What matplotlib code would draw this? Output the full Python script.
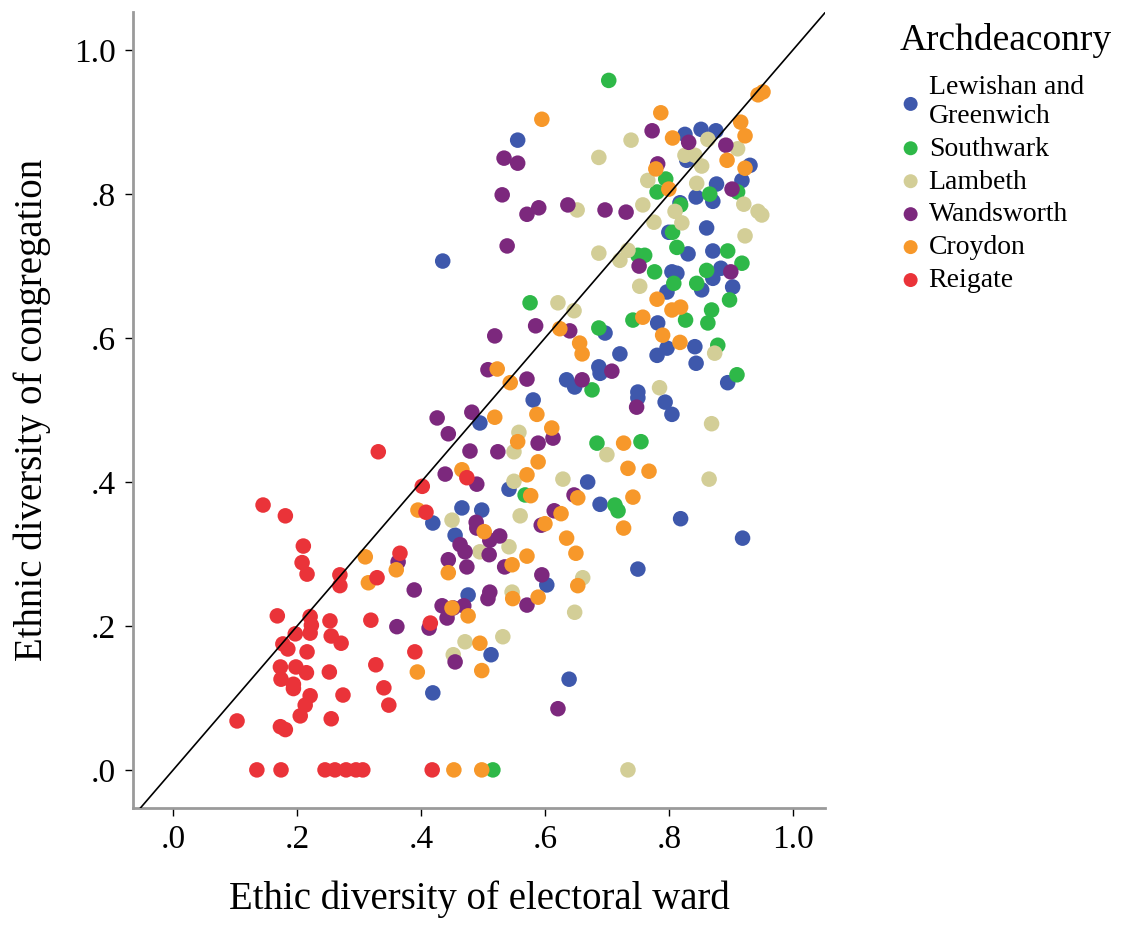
import matplotlib
matplotlib.use('Agg')
import matplotlib.pyplot as plt

plt.rcParams['font.family'] = ['Liberation Serif', 'DejaVu Serif']

# Archdeaconry groups: x = ethnic diversity of ward, y = of congregation
lewisham_x = [0.556, 0.435, 0.826, 0.852, 0.876, 0.829, 0.931, 0.918, 0.877, 0.871, 0.844, 0.818, 0.800, 0.861,
              0.831, 0.871, 0.805, 0.813, 0.797, 0.884, 0.871, 0.853, 0.903, 0.782, 0.797, 0.781, 0.842, 0.844,
              0.697, 0.721, 0.687, 0.689, 0.635, 0.648, 0.895, 0.750, 0.750, 0.794, 0.805, 0.581, 0.495, 0.542,
              0.669, 0.689, 0.419, 0.466, 0.498, 0.455, 0.603, 0.476, 0.819, 0.919, 0.750, 0.513, 0.419, 0.639]
lewisham_y = [0.875, 0.707, 0.883, 0.890, 0.888, 0.847, 0.840, 0.819, 0.814, 0.790, 0.796, 0.788, 0.747, 0.753,
              0.717, 0.721, 0.692, 0.690, 0.664, 0.697, 0.683, 0.667, 0.671, 0.621, 0.586, 0.576, 0.588, 0.565,
              0.607, 0.578, 0.560, 0.551, 0.542, 0.532, 0.538, 0.525, 0.517, 0.511, 0.494, 0.514, 0.482, 0.390,
              0.400, 0.369, 0.343, 0.364, 0.361, 0.326, 0.257, 0.243, 0.349, 0.322, 0.279, 0.160, 0.107, 0.126]

southwark_x = [0.703, 0.795, 0.781, 0.911, 0.866, 0.819, 0.806, 0.750, 0.761, 0.813, 0.895, 0.918, 0.777, 0.808,
               0.861, 0.845, 0.898, 0.869, 0.863, 0.827, 0.742, 0.576, 0.687, 0.676, 0.879, 0.910, 0.684, 0.755,
               0.713, 0.718, 0.568, 0.516]
southwark_y = [0.958, 0.821, 0.803, 0.803, 0.800, 0.785, 0.747, 0.715, 0.715, 0.726, 0.721, 0.704, 0.692, 0.676,
               0.694, 0.676, 0.653, 0.639, 0.621, 0.625, 0.625, 0.649, 0.614, 0.528, 0.590, 0.549, 0.454, 0.456,
               0.368, 0.360, 0.382, 0.0]

lambeth_x = [0.687, 0.739, 0.863, 0.911, 0.826, 0.842, 0.853, 0.766, 0.845, 0.758, 0.921, 0.944, 0.810, 0.652,
             0.776, 0.821, 0.923, 0.950, 0.687, 0.734, 0.721, 0.753, 0.621, 0.647, 0.874, 0.785, 0.869, 0.700,
             0.865, 0.558, 0.550, 0.550, 0.629, 0.450, 0.560, 0.542, 0.495, 0.661, 0.547, 0.648, 0.471, 0.532,
             0.452, 0.734]
lambeth_y = [0.851, 0.875, 0.876, 0.863, 0.854, 0.854, 0.839, 0.819, 0.815, 0.785, 0.786, 0.776, 0.776, 0.778,
             0.761, 0.760, 0.742, 0.771, 0.718, 0.722, 0.708, 0.672, 0.649, 0.638, 0.579, 0.531, 0.481, 0.438,
             0.404, 0.469, 0.442, 0.401, 0.404, 0.347, 0.353, 0.310, 0.303, 0.267, 0.247, 0.219, 0.178, 0.185,
             0.160, 0.0]

wandsworth_x = [0.534, 0.556, 0.531, 0.571, 0.590, 0.637, 0.539, 0.697, 0.731, 0.773, 0.832, 0.892, 0.782, 0.902,
                0.752, 0.900, 0.585, 0.519, 0.640, 0.508, 0.571, 0.660, 0.708, 0.748, 0.482, 0.426, 0.444, 0.613,
                0.589, 0.479, 0.524, 0.439, 0.490, 0.647, 0.489, 0.490, 0.615, 0.594, 0.527, 0.511, 0.463, 0.471,
                0.510, 0.363, 0.444, 0.474, 0.535, 0.595, 0.389, 0.511, 0.508, 0.434, 0.452, 0.469, 0.571, 0.361,
                0.413, 0.442, 0.455, 0.621]
wandsworth_y = [0.850, 0.843, 0.799, 0.772, 0.781, 0.785, 0.728, 0.778, 0.775, 0.888, 0.872, 0.868, 0.842, 0.807,
                0.700, 0.692, 0.617, 0.603, 0.610, 0.556, 0.543, 0.542, 0.554, 0.504, 0.497, 0.489, 0.467, 0.461,
                0.454, 0.443, 0.442, 0.411, 0.397, 0.382, 0.344, 0.336, 0.360, 0.340, 0.325, 0.319, 0.313, 0.303,
                0.299, 0.289, 0.292, 0.282, 0.282, 0.271, 0.250, 0.247, 0.238, 0.228, 0.225, 0.228, 0.229, 0.199,
                0.197, 0.211, 0.150, 0.085]

croydon_x = [0.595, 0.787, 0.944, 0.952, 0.916, 0.923, 0.806, 0.894, 0.923, 0.779, 0.800, 0.781, 0.805, 0.819,
             0.758, 0.790, 0.818, 0.624, 0.656, 0.660, 0.523, 0.544, 0.519, 0.587, 0.727, 0.734, 0.768, 0.742,
             0.727, 0.611, 0.556, 0.589, 0.466, 0.571, 0.577, 0.653, 0.395, 0.626, 0.600, 0.502, 0.635, 0.650,
             0.571, 0.310, 0.360, 0.444, 0.547, 0.315, 0.653, 0.548, 0.589, 0.450, 0.476, 0.495, 0.394, 0.498,
             0.453, 0.498]
croydon_y = [0.904, 0.913, 0.938, 0.942, 0.900, 0.881, 0.878, 0.847, 0.836, 0.835, 0.807, 0.654, 0.639, 0.643,
             0.629, 0.604, 0.594, 0.613, 0.593, 0.578, 0.557, 0.538, 0.490, 0.494, 0.454, 0.419, 0.415, 0.379,
             0.336, 0.475, 0.456, 0.428, 0.417, 0.410, 0.381, 0.378, 0.361, 0.356, 0.342, 0.331, 0.322, 0.301,
             0.297, 0.296, 0.278, 0.274, 0.285, 0.260, 0.256, 0.238, 0.240, 0.225, 0.214, 0.176, 0.136, 0.138,
             0.0, 0.0]

reigate_x = [0.145, 0.181, 0.210, 0.208, 0.216, 0.269, 0.269, 0.168, 0.221, 0.223, 0.221, 0.253, 0.197, 0.255,
             0.271, 0.177, 0.185, 0.216, 0.173, 0.198, 0.215, 0.252, 0.174, 0.194, 0.194, 0.274, 0.221, 0.213,
             0.205, 0.103, 0.255, 0.173, 0.181, 0.135, 0.174, 0.245, 0.261, 0.279, 0.295, 0.306, 0.418, 0.319,
             0.415, 0.390, 0.327, 0.340, 0.348, 0.331, 0.474, 0.402, 0.408, 0.366, 0.329]
reigate_y = [0.368, 0.353, 0.311, 0.288, 0.272, 0.271, 0.256, 0.214, 0.213, 0.201, 0.190, 0.207, 0.189, 0.186,
             0.176, 0.175, 0.168, 0.164, 0.143, 0.143, 0.135, 0.136, 0.126, 0.119, 0.113, 0.104, 0.103, 0.090,
             0.075, 0.068, 0.071, 0.060, 0.056, 0.0, 0.0, 0.0, 0.0, 0.0, 0.0, 0.0, 0.0, 0.208,
             0.204, 0.164, 0.146, 0.114, 0.090, 0.442, 0.406, 0.394, 0.358, 0.301, 0.267]

groups = [
    ('Lewishan and\nGreenwich', lewisham_x, lewisham_y, '#3E58AC'),
    ('Southwark', southwark_x, southwark_y, '#2EB848'),
    ('Lambeth', lambeth_x, lambeth_y, '#D3CE97'),
    ('Wandsworth', wandsworth_x, wandsworth_y, '#7C287D'),
    ('Croydon', croydon_x, croydon_y, '#F7982A'),
    ('Reigate', reigate_x, reigate_y, '#EA3339'),
]

ticks = [0.0, 0.2, 0.4, 0.6, 0.8, 1.0]
tick_labels = ['.0', '.2', '.4', '.6', '.8', '1.0']

fig = plt.figure(figsize=(11.23, 9.26), dpi=100)
ax = fig.add_axes([0.1184, 0.1274, 0.6162, 0.8596])

for name, xs, ys, col in groups:
    ax.scatter(xs, ys, s=125, color=col, edgecolors='none', label=name, zorder=2)

# reference line y = x
ax.axline((0, 0), (1, 1), color='black', lw=1.2, zorder=3)

ax.set_xlim(-0.065, 1.052)
ax.set_ylim(-0.053, 1.053)
ax.set_xticks(ticks)
ax.set_xticklabels(tick_labels)
ax.set_yticks(ticks)
ax.set_yticklabels(tick_labels)
ax.tick_params(labelsize=24, length=6, width=1, colors='black', pad=6)

for side in ['top', 'right']:
    ax.spines[side].set_visible(False)
for side in ['left', 'bottom']:
    ax.spines[side].set_color('#9a9a9a')
    ax.spines[side].set_linewidth(2)

ax.set_xlabel('Ethic diversity of electoral ward', fontsize=28, labelpad=18)
ax.set_ylabel('Ethnic diversity of congregation', fontsize=28, labelpad=17)

leg = fig.legend(loc='upper left', bbox_to_anchor=(0.801, 0.975), frameon=False,
                 title='Archdeaconry', title_fontsize=27, fontsize=20,
                 handlelength=0.8, handletextpad=0.25, labelspacing=0.27,
                 markerscale=0.9, borderaxespad=0, borderpad=0)
leg._legend_box.align = 'left'
leg._legend_box.sep = 12

fig.savefig('out.png', dpi=100)
